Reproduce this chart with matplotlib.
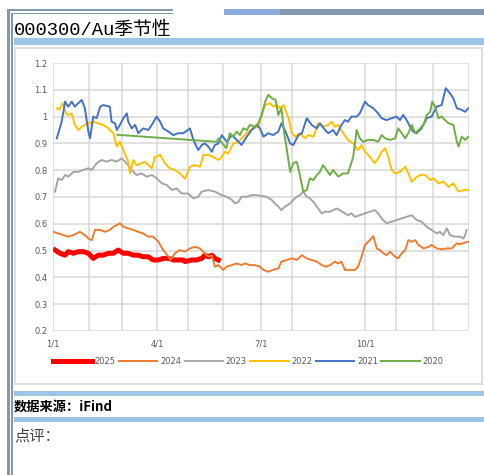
"""
000300/Au seasonal chart, rebuilt as a document snippet
"""

import matplotlib
matplotlib.use('Agg')
import matplotlib.pyplot as plt
from matplotlib.patches import Rectangle

W, H = 484, 475

# ---- data (x in months since 1/1, y = 000300/Au ratio) ----
years = ['2025', '2024', '2023', '2022', '2021', '2020']
colors = ['#FF0000', '#ED7D31', '#A5A5A5', '#FFC000', '#4472C4', '#70AD47']

m_2025 = [0.06, 0.2, 0.35, 0.44, 0.59, 0.73, 0.87, 1.02, 1.16, 1.31, 1.45, 1.6, 1.74, 1.88,
          2.03, 2.17, 2.32, 2.46, 2.6, 2.75, 2.89, 3.04, 3.18, 3.33, 3.47, 3.61, 3.76, 3.81,
          4.0, 4.14, 4.29, 4.38, 4.48, 4.58, 4.67, 4.77]
v_2025 = [0.502, 0.49, 0.483, 0.496, 0.49, 0.496, 0.496, 0.49, 0.471, 0.483, 0.483, 0.49, 0.49, 0.502,
          0.49, 0.49, 0.483, 0.483, 0.477, 0.477, 0.465, 0.465, 0.471, 0.471, 0.465, 0.465, 0.465, 0.459,
          0.465, 0.465, 0.471, 0.483, 0.477, 0.483, 0.471, 0.465]

m_2024 = [0.01, 0.15, 0.3, 0.44, 0.59, 0.78, 0.92, 1.02, 1.12, 1.21, 1.36, 1.5, 1.64, 1.74, 1.84,
          1.93, 2.03, 2.17, 2.32, 2.46, 2.6, 2.75, 2.89, 3.04, 3.18, 3.33, 3.39, 3.52, 3.66, 3.81,
          3.95, 4.1, 4.24, 4.38, 4.48, 4.58, 4.67, 4.77, 4.91, 5.01, 5.16, 5.3, 5.44, 5.54, 5.68,
          5.83, 5.97, 6.07, 6.21, 6.35, 6.5, 6.59, 6.74, 6.89, 7.03, 7.18, 7.32, 7.46, 7.61, 7.75,
          7.89, 7.99, 8.13, 8.23, 8.32, 8.42, 8.56, 8.71, 8.8, 8.9, 9.0, 9.14, 9.24, 9.34, 9.43,
          9.53, 9.62, 9.72, 9.87, 9.96, 10.06, 10.16, 10.25, 10.35, 10.45, 10.54, 10.69, 10.83,
          10.92, 11.07, 11.21, 11.36, 11.5, 11.65, 11.74, 11.89, 11.98]
v_2024 = [0.57, 0.564, 0.558, 0.552, 0.558, 0.57, 0.558, 0.545, 0.539, 0.577, 0.577, 0.57, 0.577, 0.589, 0.595,
          0.602, 0.589, 0.583, 0.577, 0.57, 0.564, 0.552, 0.552, 0.533, 0.502, 0.477, 0.465, 0.49, 0.502, 0.496,
          0.508, 0.514, 0.508, 0.49, 0.477, 0.483, 0.44, 0.446, 0.428, 0.44, 0.446, 0.452, 0.446, 0.452, 0.446,
          0.446, 0.44, 0.428, 0.421, 0.428, 0.434, 0.459, 0.465, 0.471, 0.465, 0.483, 0.471, 0.465, 0.459, 0.446,
          0.44, 0.446, 0.459, 0.452, 0.459, 0.428, 0.428, 0.428, 0.44, 0.477, 0.521, 0.539, 0.554, 0.508, 0.502,
          0.49, 0.483, 0.496, 0.477, 0.471, 0.49, 0.502, 0.539, 0.533, 0.539, 0.521, 0.508, 0.514,
          0.521, 0.508, 0.505, 0.508, 0.508, 0.527, 0.524, 0.53, 0.533]

m_2023 = [0.06, 0.15, 0.25, 0.35, 0.44, 0.59, 0.73, 0.87, 1.02, 1.12, 1.26, 1.4, 1.55, 1.69, 1.84,
          1.98, 2.08, 2.17, 2.27, 2.41, 2.56, 2.7, 2.85, 2.99, 3.14, 3.28, 3.43, 3.57, 3.71, 3.9,
          4.05, 4.19, 4.29, 4.48, 4.67, 4.87, 5.01, 5.16, 5.25, 5.35, 5.44, 5.59, 5.73, 5.88, 6.02,
          6.16, 6.31, 6.4, 6.5, 6.59, 6.69, 6.84, 6.93, 7.03, 7.12, 7.22, 7.32, 7.41, 7.51, 7.65,
          7.75, 7.85, 7.99, 8.08, 8.18, 8.27, 8.42, 8.51, 8.61, 8.71, 8.85, 9.0, 9.14, 9.28, 9.38,
          9.48, 9.62, 9.77, 9.91, 10.06, 10.2, 10.35, 10.49, 10.63, 10.78, 10.92, 11.07, 11.16,
          11.26, 11.36, 11.45, 11.59, 11.74, 11.84, 11.89, 11.93]
v_2023 = [0.72, 0.77, 0.763, 0.782, 0.776, 0.794, 0.794, 0.801, 0.807, 0.801, 0.826, 0.838, 0.832, 0.838, 0.832,
          0.844, 0.832, 0.819, 0.801, 0.782, 0.788, 0.776, 0.782, 0.77, 0.751, 0.745, 0.726, 0.732, 0.713, 0.713,
          0.695, 0.701, 0.72, 0.726, 0.72, 0.707, 0.701, 0.689, 0.676, 0.682, 0.701, 0.701, 0.707, 0.707, 0.704,
          0.701, 0.689, 0.676, 0.664, 0.651, 0.664, 0.676, 0.689, 0.701, 0.707, 0.72, 0.701, 0.695, 0.682, 0.657,
          0.639, 0.645, 0.645, 0.651, 0.657, 0.651, 0.639, 0.632, 0.639, 0.626, 0.632, 0.639, 0.645, 0.651, 0.639,
          0.62, 0.602, 0.608, 0.614, 0.62, 0.626, 0.632, 0.614, 0.608, 0.589, 0.577, 0.564, 0.57,
          0.558, 0.583, 0.558, 0.552, 0.552, 0.545, 0.558, 0.577]

m_2022 = [0.11, 0.18, 0.28, 0.38, 0.44, 0.54, 0.63, 0.73, 0.83, 0.92, 1.02, 1.16, 1.31, 1.45, 1.6,
          1.74, 1.84, 1.93, 2.03, 2.17, 2.22, 2.32, 2.41, 2.56, 2.65, 2.75, 2.85, 2.94, 3.09, 3.23,
          3.37, 3.52, 3.66, 3.81, 3.95, 4.1, 4.24, 4.34, 4.48, 4.62, 4.77, 4.87, 4.96, 5.06, 5.2,
          5.35, 5.49, 5.63, 5.78, 5.92, 6.02, 6.12, 6.26, 6.36, 6.45, 6.55, 6.65, 6.74, 6.81, 6.89,
          6.99, 7.12, 7.27, 7.36, 7.51, 7.65, 7.79, 7.94, 8.04, 8.13, 8.23, 8.37, 8.51, 8.66, 8.8,
          8.9, 9.0, 9.14, 9.28, 9.38, 9.48, 9.58, 9.67, 9.77, 9.87, 10.01, 10.16, 10.25, 10.35,
          10.45, 10.59, 10.74, 10.88, 10.98, 11.12, 11.27, 11.41, 11.55, 11.7, 11.84, 11.98]
v_2022 = [1.031, 1.025, 1.05, 1.012, 1.006, 1.012, 0.969, 0.95, 0.962, 0.969, 0.975, 0.981, 0.975, 0.969, 0.956,
          0.938, 0.888, 0.906, 0.875, 0.832, 0.788, 0.838, 0.819, 0.826, 0.832, 0.819, 0.807, 0.85, 0.857, 0.826,
          0.807, 0.801, 0.788, 0.768, 0.813, 0.819, 0.813, 0.857, 0.857, 0.85, 0.838, 0.85, 0.869, 0.863, 0.9,
          0.906, 0.925, 0.944, 0.956, 0.962, 1.006, 1.043, 1.05, 1.037, 1.043, 1.031, 1.043, 1.012, 0.987, 0.938,
          0.925, 0.938, 0.919, 0.931, 0.925, 0.975, 0.962, 0.969, 0.981, 0.962, 0.969, 0.938, 0.913, 0.9, 0.875,
          0.894, 0.869, 0.85, 0.826, 0.844, 0.869, 0.882, 0.85, 0.801, 0.788, 0.794, 0.813, 0.788, 0.757,
          0.77, 0.782, 0.782, 0.763, 0.77, 0.751, 0.757, 0.738, 0.751, 0.72, 0.726, 0.726]

m_2021 = [0.11, 0.25, 0.35, 0.44, 0.54, 0.63, 0.73, 0.83, 0.92, 1.02, 1.07, 1.16, 1.26, 1.36, 1.45,
          1.64, 1.69, 1.79, 1.84, 1.93, 2.03, 2.13, 2.17, 2.27, 2.37, 2.46, 2.6, 2.75, 2.85, 2.99,
          3.09, 3.18, 3.33, 3.47, 3.61, 3.76, 3.95, 4.05, 4.19, 4.29, 4.38, 4.48, 4.58, 4.67, 4.77,
          4.87, 5.01, 5.16, 5.3, 5.44, 5.59, 5.73, 5.88, 5.97, 6.07, 6.21, 6.35, 6.5, 6.59, 6.69,
          6.84, 6.93, 7.08, 7.18, 7.32, 7.46, 7.61, 7.7, 7.85, 7.94, 8.08, 8.18, 8.32, 8.42, 8.51,
          8.61, 8.76, 8.85, 9.0, 9.09, 9.24, 9.38, 9.48, 9.62, 9.77, 9.91, 10.01, 10.1, 10.2, 10.3,
          10.39, 10.49, 10.63, 10.78, 10.92, 11.07, 11.21, 11.33, 11.45, 11.55, 11.65, 11.79, 11.89, 11.98]
v_2021 = [0.919, 0.981, 1.056, 1.037, 1.056, 1.037, 1.05, 1.062, 1.031, 0.944, 0.919, 1.0, 0.994, 1.037, 1.043,
          1.037, 0.981, 0.975, 0.95, 0.969, 0.994, 1.012, 0.981, 0.956, 0.969, 0.938, 0.956, 0.95, 0.969, 1.0,
          0.981, 0.956, 0.944, 0.931, 0.938, 0.938, 0.956, 0.913, 0.875, 0.894, 0.9, 0.888, 0.869, 0.894, 0.9,
          0.931, 0.906, 0.931, 0.913, 0.894, 0.925, 0.95, 0.969, 0.956, 0.925, 0.938, 0.931, 0.944, 0.975, 0.95,
          0.9, 0.894, 0.931, 0.938, 0.994, 0.969, 0.956, 0.975, 0.95, 0.938, 0.95, 0.931, 0.969, 0.987, 0.981,
          1.0, 1.0, 1.012, 1.056, 1.043, 1.031, 1.012, 0.994, 0.987, 0.994, 1.0, 0.987, 1.006, 0.987, 0.962,
          0.944, 0.938, 0.956, 0.994, 1.0, 1.037, 1.043, 1.106, 1.087, 1.068, 1.031, 1.025, 1.018, 1.031]

m_2020 = [1.86, 4.72, 4.77, 5.0, 5.1, 5.2, 5.3, 5.39, 5.49, 5.59, 5.68, 5.83, 5.92, 6.02, 6.12,
          6.21, 6.32, 6.42, 6.5, 6.59, 6.67, 6.74, 6.84, 6.93, 7.03, 7.12, 7.22, 7.32, 7.41, 7.51,
          7.61, 7.7, 7.79, 7.89, 7.99, 8.08, 8.23, 8.37, 8.51, 8.66, 8.76, 8.85, 8.95, 9.09, 9.24,
          9.38, 9.48, 9.58, 9.72, 9.87, 9.96, 10.06, 10.16, 10.25, 10.35, 10.45, 10.59, 10.69,
          10.78, 10.88, 10.94, 11.02, 11.12, 11.21, 11.31, 11.41, 11.55, 11.65, 11.7, 11.79, 11.89, 11.98]
v_2020 = [0.932, 0.906, 0.919, 0.882, 0.938, 0.925, 0.944, 0.931, 0.956, 0.95, 0.969, 0.962, 0.975, 1.006, 1.056,
          1.081, 1.068, 1.062, 1.006, 1.031, 0.938, 0.882, 0.794, 0.826, 0.832, 0.782, 0.72, 0.726, 0.77, 0.763,
          0.782, 0.794, 0.819, 0.801, 0.782, 0.801, 0.776, 0.788, 0.788, 0.85, 0.95, 0.919, 0.906, 0.913, 0.913,
          0.906, 0.931, 0.919, 0.913, 0.919, 0.956, 0.938, 0.919, 0.938, 0.969, 0.938, 0.956, 0.969,
          1.006, 1.018, 1.056, 1.037, 0.994, 1.0, 0.987, 0.975, 0.969, 0.906, 0.888, 0.925, 0.913, 0.925]

x_tick_pos = [0, 3, 6, 9]
x_tick_labels = ['1/1', '4/1', '7/1', '10/1']
y_tick_pos = [0.2, 0.3, 0.4, 0.5, 0.6, 0.7, 0.8, 0.9, 1.0, 1.1, 1.2]
y_tick_labels = ['0.2', '0.3', '0.4', '0.5', '0.6', '0.7', '0.8', '0.9', '1', '1.1', '1.2']
grid_months = [0, 1.04, 1.99, 3.0, 3.9, 4.9, 6.0, 6.9, 9.0, 9.9, 10.96, 12]

title = '000300/Au季节性'
source = '数据来源：iFind'
comment = '点评：'

CJK = ['Noto Sans CJK SC', 'DejaVu Sans']
BORDER = '#8497B0'
BAR = '#9DC3E6'
GRID = '#D9D9D9'


def fx(x):
    return x / W


def fy(y):
    return 1 - y / H


def box(fig, x0, y0, x1, y1, color):
    """Rectangle given in pixel coords (top-left origin)"""
    fig.patches.append(Rectangle((fx(x0), fy(y1)), (x1 - x0) / W, (y1 - y0) / H,
                                 transform=fig.transFigure, facecolor=color,
                                 edgecolor='none', zorder=0))


def draw_page(fig):
    # document frame lines
    box(fig, 7, 9, 173, 11, BORDER)
    box(fig, 11, 13, 173, 14, BORDER)
    box(fig, 224, 9, 280, 15, '#8FAADC')
    box(fig, 280, 9, 484, 15, BORDER)
    box(fig, 7, 9, 10, 475, BORDER)
    box(fig, 11, 13, 13, 475, BORDER)

    # blue separators
    box(fig, 14, 38, 484, 45, BAR)
    box(fig, 14, 391, 484, 396, BAR)
    box(fig, 14, 417, 484, 422, BAR)

    # chart frame
    fig.patches.append(Rectangle((fx(15), fy(384)), (482 - 15) / W, (384 - 48) / H,
                                 transform=fig.transFigure, facecolor='none',
                                 edgecolor=GRID, linewidth=1.2, zorder=0))

    fig.text(fx(14), fy(30), title, family=['Liberation Mono', 'Noto Sans CJK SC'],
             fontsize=13.5, va='center', ha='left', color='black')
    fig.text(fx(14), fy(407), source, family=CJK, fontsize=9.5, fontweight='bold',
             va='center', ha='left', color='black')
    fig.text(fx(14), fy(436), comment, family=CJK, fontsize=11,
             va='center', ha='left', color='#404040')


def draw_chart(fig):
    ax = fig.add_axes([fx(53), fy(331), (469 - 53) / W, (331 - 63) / H])
    ax.set_zorder(3)

    series = [(m_2025, v_2025), (m_2024, v_2024), (m_2023, v_2023),
              (m_2022, v_2022), (m_2021, v_2021), (m_2020, v_2020)]
    for i, (xs, ys) in enumerate(series):
        lw = 3.6 if years[i] == '2025' else 1.4
        ax.plot(xs, ys, color=colors[i], lw=lw, label=years[i], zorder=3 + i,
                solid_joinstyle='round')

    ax.set_xlim(0, 12)
    ax.set_ylim(0.2, 1.2)
    ax.set_yticks(y_tick_pos)
    ax.set_yticklabels(y_tick_labels)
    ax.set_xticks(x_tick_pos)
    ax.set_xticklabels(x_tick_labels)
    ax.tick_params(axis='both', length=0, labelsize=6, labelcolor='#595959')
    ax.tick_params(axis='y', pad=4)
    ax.tick_params(axis='x', pad=6)

    for y in y_tick_pos:
        ax.axhline(y, color=GRID, lw=1.1, zorder=1)
    for m in grid_months:
        ax.axvline(m, color=GRID, lw=1.1, zorder=1)
    for s in ax.spines.values():
        s.set_visible(False)

    handles, labels = ax.get_legend_handles_labels()
    fig.legend(handles, labels, loc='center', ncol=6, frameon=False,
               bbox_to_anchor=(fx(248.5), fy(361)), fontsize=6,
               handlelength=4.6, handletextpad=0.35, columnspacing=0.4,
               labelcolor='#595959')


def main():
    fig = plt.figure(figsize=(W / 100, H / 100), dpi=100)
    fig.patch.set_facecolor('white')
    draw_page(fig)
    draw_chart(fig)
    fig.savefig('out.png', dpi=100)
    print("Saved: out.png")


if __name__ == "__main__":
    main()
